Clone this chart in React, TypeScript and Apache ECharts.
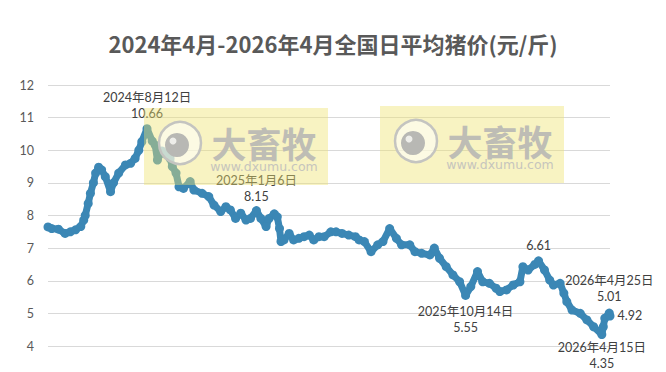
import React, { useEffect, useRef } from "react";
import * as echarts from "echarts";

const dates = [
  "2024-04-01", "2024-04-06", "2024-04-15", "2024-04-24", "2024-05-01", "2024-05-08", "2024-05-15", "2024-05-19",
  "2024-05-21", "2024-05-25", "2024-05-28", "2024-06-01", "2024-06-04", "2024-06-08", "2024-06-12", "2024-06-17",
  "2024-06-24", "2024-06-28", "2024-07-05", "2024-07-14", "2024-07-21", "2024-07-27", "2024-08-01", "2024-08-05",
  "2024-08-12", "2024-08-19", "2024-08-23", "2024-08-26", "2024-09-01", "2024-09-06", "2024-09-12", "2024-09-15",
  "2024-09-20", "2024-09-24", "2024-09-30", "2024-10-09", "2024-10-14", "2024-10-25", "2024-11-03", "2024-11-10",
  "2024-11-19", "2024-11-26", "2024-12-02", "2024-12-09", "2024-12-16", "2024-12-23", "2024-12-29", "2025-01-06",
  "2025-01-12", "2025-01-19", "2025-01-23", "2025-01-30", "2025-02-03", "2025-02-06", "2025-02-08", "2025-02-12",
  "2025-02-19", "2025-02-25", "2025-03-04", "2025-03-11", "2025-03-18", "2025-03-24", "2025-03-31", "2025-04-07",
  "2025-04-16", "2025-04-23", "2025-05-01", "2025-05-10", "2025-05-19", "2025-05-24", "2025-05-31", "2025-06-09",
  "2025-06-18", "2025-06-25", "2025-07-04", "2025-07-13", "2025-07-20", "2025-07-31", "2025-08-07", "2025-08-16",
  "2025-08-27", "2025-09-02", "2025-09-09", "2025-09-18", "2025-09-27", "2025-10-06", "2025-10-14", "2025-10-21",
  "2025-10-30", "2025-11-06", "2025-11-15", "2025-11-24", "2025-11-29", "2025-12-08", "2025-12-17", "2025-12-26",
  "2025-12-30", "2026-01-06", "2026-01-15", "2026-01-20", "2026-01-28", "2026-02-04", "2026-02-09", "2026-02-18",
  "2026-02-23", "2026-02-27", "2026-03-06", "2026-03-17", "2026-03-26", "2026-04-04", "2026-04-15", "2026-04-17",
  "2026-04-19", "2026-04-25", "2026-04-26",
];

const prices = [
  7.65, 7.6, 7.58, 7.45, 7.5, 7.56, 7.66, 7.86,
  8.0, 8.37, 8.68, 9.0, 9.3, 9.48, 9.4, 9.19,
  8.73, 9.0, 9.3, 9.55, 9.6, 9.75, 10.0, 10.26,
  10.66, 10.28, 10.16, 9.7, 9.98, 9.88, 9.75, 9.5,
  9.3, 8.88, 8.83, 9.04, 8.78, 8.68, 8.58, 8.32,
  8.12, 8.27, 8.17, 7.91, 8.07, 7.86, 7.91, 8.15,
  7.91, 7.66, 7.91, 8.05, 7.96, 7.6, 7.2, 7.25,
  7.45, 7.25, 7.3, 7.35, 7.4, 7.25, 7.35, 7.35,
  7.5, 7.5, 7.45, 7.4, 7.35, 7.25, 7.2, 6.89,
  7.1, 7.2, 7.6, 7.3, 7.1, 7.1, 6.89, 6.84,
  6.79, 7.0, 6.69, 6.43, 6.18, 5.97, 5.55, 5.82,
  6.28, 5.97, 5.92, 5.77, 5.67, 5.72, 5.87, 5.97,
  6.43, 6.33, 6.5, 6.61, 6.33, 6.02, 5.87, 5.92,
  5.62, 5.36, 5.1, 5.0, 4.8, 4.59, 4.35, 4.59,
  4.85, 5.01, 4.92,
];

const annotationDates = ["2024-08-12", "2025-01-06", "2025-10-14", "2026-01-20", "2026-04-15", "2026-04-25", "2026-04-26"];
const annotationTexts = [
  "2024年8月12日\n10.66",
  "2025年1月6日\n8.15",
  "2025年10月14日\n5.55",
  "6.61",
  "2026年4月15日\n4.35",
  "2026年4月25日\n5.01",
  "4.92",
];
const annotationPositions = ["top", "top", "bottom", "top", "bottom", "top", "right"];
const annotationGaps = [3, 2, 4, 3, 0, 4, 3];

const TITLE = "2024年4月-2026年4月全国日平均猪价(元/斤)";
const LINE_COLOR = "#3B87B5";
const FONT = 'Lato, "Noto Sans CJK SC", sans-serif';

function watermark(x: number, y: number) {
  return {
    type: "group",
    x,
    y,
    z: 100,
    children: [
      { type: "rect", shape: { x: 0, y: 0, width: 184, height: 77 }, style: { fill: "rgba(238,226,110,0.42)" }, z: 100 },
      { type: "circle", shape: { cx: 36, cy: 35, r: 21 }, style: { fill: "rgba(255,255,255,0.55)", stroke: "#c4c4c0", lineWidth: 2.5 }, z: 101 },
      { type: "circle", shape: { cx: 33, cy: 37, r: 12 }, style: { fill: "#b8b8b4" }, z: 102 },
      { type: "circle", shape: { cx: 29, cy: 33, r: 3.5 }, style: { fill: "#eeeeea" }, z: 103 },
      {
        type: "text",
        x: 120,
        y: 34,
        style: {
          text: "大畜牧",
          fill: "#bebdb5",
          font: 'bold 35px "Noto Sans CJK SC", sans-serif',
          align: "center",
          verticalAlign: "middle",
        },
        z: 102,
      },
      {
        type: "text",
        x: 120,
        y: 58,
        style: {
          text: "www.dxumu.com",
          fill: "#c6c5bd",
          font: '12.5px "DejaVu Sans", sans-serif',
          align: "center",
          verticalAlign: "middle",
        },
        z: 102,
      },
    ],
  };
}

export default function App() {
  const ref = useRef<HTMLDivElement>(null);
  useEffect(() => {
    if (!ref.current) return;
    const chart = echarts.init(ref.current, undefined, { renderer: "svg" });
    const data = dates.map((d, i) => {
      const k = annotationDates.indexOf(d);
      if (k < 0) return [d, prices[i]];
      return {
        value: [d, prices[i]],
        label: {
          show: true,
          formatter: annotationTexts[k],
          position: annotationPositions[k],
          distance: annotationGaps[k],
          color: "#404040",
          fontSize: 12.5,
          lineHeight: 16,
          fontFamily: FONT,
          align: annotationPositions[k] === "right" ? "left" : "center",
        },
      };
    });
    chart.setOption({
      animation: false,
      title: {
        text: TITLE,
        left: "center",
        top: 27,
        textStyle: { fontSize: 22, fontWeight: "bold", color: "#595959", fontFamily: '"Noto Sans CJK SC", sans-serif' },
      },
      grid: { left: 48, right: 56, top: 85, bottom: 26 },
      xAxis: {
        type: "time",
        min: "2024-04-01",
        max: "2026-04-26",
        axisLabel: { show: false },
        axisLine: { show: false },
        axisTick: { show: false },
        splitLine: { show: false },
      },
      yAxis: {
        type: "value",
        min: 4,
        max: 12,
        interval: 1,
        axisLine: { show: false },
        axisTick: { show: false },
        axisLabel: { color: "#595959", fontSize: 12.5, fontFamily: FONT, margin: 14 },
        splitLine: { lineStyle: { color: "#d9d9d9", width: 1 } },
      },
      series: [
        {
          type: "line",
          data,
          symbol: "circle",
          symbolSize: 9,
          showAllSymbol: true,
          lineStyle: { color: LINE_COLOR, width: 7 },
          itemStyle: { color: LINE_COLOR },
          z: 3,
        },
      ],
      graphic: [watermark(144, 108), watermark(380, 106)],
    });
    return () => chart.dispose();
  }, []);
  return <div ref={ref} style={{ width: 666, height: 372, position: "absolute", left: 0, top: 0 }} />;
}
